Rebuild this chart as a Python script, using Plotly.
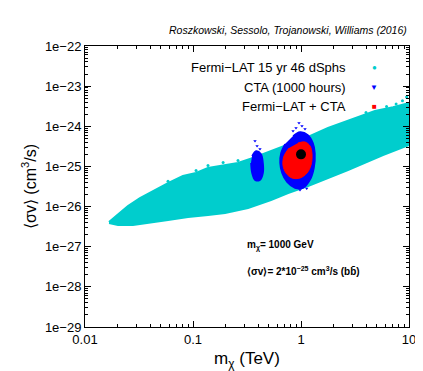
import plotly.graph_objects as go

# Fermi-LAT region: outline of the cyan point cloud (upper edge left->right, lower edge right->left)
fermi_m = [0.0167, 0.0202, 0.025, 0.0323, 0.0427, 0.0587, 0.0807, 0.1067, 0.1377, 0.19,
           0.261, 0.359, 0.527, 0.759, 1.16, 1.78, 2.72, 4.84, 7.11, 10.0,
           10.0, 5.74, 2.72, 1.78, 1.16, 0.759, 0.527, 0.323, 0.198, 0.1377,
           0.0899, 0.0587, 0.0383, 0.0278, 0.0202, 0.0167]
fermi_sv = [4.1e-27, 6.5e-27, 1.03e-26, 1.63e-26, 2.44e-26, 3.86e-26, 5.77e-26, 6.86e-26, 9.14e-26, 1.08e-25,
            1.22e-25, 1.62e-25, 2.42e-25, 3.42e-25, 5.41e-25, 9.06e-25, 1.35e-24, 2.4e-24, 3.0e-24, 3.8e-24,
            3.42e-25, 1.92e-25, 8.14e-26, 5.14e-26, 3.25e-26, 2.18e-26, 1.46e-26, 9.2e-27, 6.9e-27, 6.17e-27,
            5.5e-27, 4.62e-27, 3.89e-27, 3.47e-27, 3.47e-27, 3.89e-27]
# a few stray Fermi points outside the dense band
fermi_out_m = [9.5, 8.7, 7.6, 6.2, 0.1377, 0.1067, 0.19, 0.0587, 0.261, 4.0]
fermi_out_sv = [5.4e-24, 4.3e-24, 3.6e-24, 3.1e-24, 1.05e-25, 7.9e-26, 1.25e-25, 4.3e-26, 1.4e-25, 2.2e-24]

# CTA region: column near 0.4 TeV and halo round the true point
cta_col_m = [0.352, 0.384, 0.426, 0.445, 0.445, 0.417, 0.375, 0.352, 0.344]
cta_col_sv = [1.82e-25, 2.42e-25, 2.04e-25, 1.22e-25, 6.86e-26, 4.59e-26, 4.59e-26, 6.86e-26, 1.22e-25]
cta_halo_m = [0.844, 0.979, 1.161, 1.291, 1.346, 1.318, 1.212, 1.043, 0.880, 0.742, 0.667, 0.640, 0.653, 0.711]
cta_halo_sv = [5.73e-25, 7.2e-25, 6.07e-25, 3.83e-25, 2.16e-25, 9.14e-26, 4.59e-26, 2.9e-26, 2.9e-26,
               4.09e-26, 6.86e-26, 1.22e-25, 2.16e-25, 3.62e-25]
cta_out_m = [0.958, 1.021, 0.899, 1.089, 0.844, 0.375, 0.392, 0.417, 0.979, 1.13]
cta_out_sv = [1.21e-24, 1.02e-24, 9.06e-25, 8.56e-25, 7.63e-25, 4.3e-25, 3.23e-25, 2.72e-25, 2.6e-26, 2.8e-26]

# combined Fermi-LAT + CTA region
comb_m = [0.938, 1.089, 1.212, 1.264, 1.238, 1.137, 0.979, 0.826, 0.726, 0.681, 0.696, 0.775]
comb_sv = [3.83e-25, 4.06e-25, 3.23e-25, 2.04e-25, 1.08e-25, 6.86e-26, 5.14e-26, 5.14e-26,
           6.86e-26, 1.08e-25, 1.82e-25, 2.88e-25]

# benchmark point
bench_m = [1.0]
bench_sv = [2e-25]

x_ticks = [0.01, 0.1, 1, 10]
x_labels = ["0.01", "0.1", "1", "10"]
y_ticks = [1e-22, 1e-23, 1e-24, 1e-25, 1e-26, 1e-27, 1e-28, 1e-29]
y_labels = ["1e−22", "1e−23", "1e−24", "1e−25", "1e−26", "1e−27", "1e−28", "1e−29"]

CYAN = "#00CDCD"
BLUE = "#0000FF"
RED = "#FF0000"

fig = go.Figure()
fig.add_trace(go.Scatter(x=fermi_m, y=fermi_sv, mode="lines", fill="toself", fillcolor=CYAN,
                         line=dict(color=CYAN, width=2), hoverinfo="skip"))
fig.add_trace(go.Scatter(x=fermi_out_m, y=fermi_out_sv, mode="markers",
                         marker=dict(color=CYAN, size=3)))
fig.add_trace(go.Scatter(x=cta_col_m, y=cta_col_sv, mode="lines", fill="toself", fillcolor=BLUE,
                         line=dict(color=BLUE, width=1.5, shape="spline")))
fig.add_trace(go.Scatter(x=cta_halo_m, y=cta_halo_sv, mode="lines", fill="toself", fillcolor=BLUE,
                         line=dict(color=BLUE, width=1.5, shape="spline")))
fig.add_trace(go.Scatter(x=cta_out_m, y=cta_out_sv, mode="markers",
                         marker=dict(color=BLUE, size=3, symbol="triangle-down")))
fig.add_trace(go.Scatter(x=comb_m, y=comb_sv, mode="lines", fill="toself", fillcolor=RED,
                         line=dict(color=RED, width=1, shape="spline")))
fig.add_trace(go.Scatter(x=bench_m, y=bench_sv, mode="markers",
                         marker=dict(color="black", size=10)))

axis_common = dict(type="log", showline=True, linecolor="black", linewidth=1, mirror="ticks",
                   ticks="inside", ticklen=6, tickcolor="black", showgrid=False, zeroline=False,
                   minor=dict(ticks="inside", ticklen=3, tickcolor="black", dtick="D1", showgrid=False),
                   tickfont=dict(size=13, color="black"))

fig.update_layout(
    width=423, height=371,
    margin=dict(l=77, r=22, t=38, b=52),
    paper_bgcolor="white", plot_bgcolor="white",
    showlegend=False,
    font=dict(family="Liberation Sans, Arial, sans-serif", color="black"),
    xaxis=dict(axis_common, range=[-2, 1], tickvals=x_ticks, ticktext=x_labels,
               title=dict(text="m<sub>χ</sub> (TeV)", font=dict(size=17), standoff=6)),
    yaxis=dict(axis_common, range=[-29, -22], tickvals=y_ticks, ticktext=y_labels,
               title=dict(text="⟨σv⟩ (cm<sup>3</sup>/s)", font=dict(size=16), standoff=4)),
)

# reference line and legend, drawn as text the way the original has it
fig.add_annotation(text="<i>Roszkowski, Sessolo, Trojanowski, Williams (2016)</i>", xref="paper", yref="paper",
                   x=1.0, y=1.057, xanchor="right", yanchor="middle", showarrow=False, font=dict(size=10.5))
legend_rows = [("Fermi−LAT 15 yr 46 dSphs", "●", CYAN, 0.922),
               ("CTA (1000 hours)", "▼", BLUE, 0.851),
               ("Fermi−LAT + CTA", "■", RED, 0.783)]
for label, sym, col, yy in legend_rows:
    fig.add_annotation(text=label, xref="paper", yref="paper", x=0.812, y=yy, xanchor="right",
                       yanchor="middle", showarrow=False, font=dict(size=13))
    fig.add_annotation(text=sym, xref="paper", yref="paper", x=0.892, y=yy, xanchor="center",
                       yanchor="middle", showarrow=False, font=dict(size=8, color=col))

fig.add_annotation(text="<b>m<sub>χ</sub>= 1000 GeV</b>", xref="paper", yref="paper", x=0.494, y=0.29,
                   xanchor="left", yanchor="middle", showarrow=False, font=dict(size=10))
fig.add_annotation(text="<b>⟨σv⟩= 2*10<sup>−25</sup> cm<sup>3</sup>/s (bb̄)</b>", xref="paper", yref="paper",
                   x=0.494, y=0.199, xanchor="left", yanchor="middle", showarrow=False, font=dict(size=10))

fig.write_html("out.html")
